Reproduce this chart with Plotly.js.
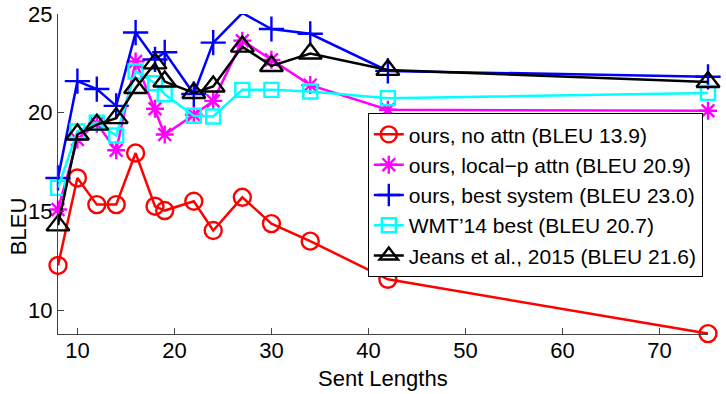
<!DOCTYPE html>
<html>
<head>
<meta charset="utf-8">
<script src="https://cdn.plot.ly/plotly-3.0.1.min.js"></script>
<style>html,body{margin:0;padding:0;background:#fff;}#chart{width:726px;height:394px;}</style>
</head>
<body>
<div id="chart"></div>
<script>
const sentLengths = [8, 10, 12, 14, 16, 18, 19, 22, 24, 27, 30, 34, 42, 75];
const noAttn      = [12.27, 16.7, 15.35, 15.35, 17.96, 15.27, 15.05, 15.52, 14.04, 15.72, 14.39, 13.5, 11.57, 8.82];
const localP      = [15.1, 18.65, 19.45, 18.1, 22.6, 20.2, 18.9, 19.9, 20.6, 23.65, 22.68, 21.4, 20.15, 20.1];
const bestSystem  = [16.7, 21.6, 21.2, 20.35, 24.06, 22.7, 23.06, 20.95, 23.55, 25.05, 24.24, 24.0, 22.12, 21.82];
const wmtBest     = [16.2, 19.05, 19.5, 18.85, 22.09, 21.5, 20.94, 19.85, 19.81, 21.16, 21.16, 21.08, 20.74, 21.0];
const jeans       = [14.3, 18.9, 19.4, 19.73, 21.25, 22.5, 21.58, 21.0, 21.33, 23.35, 22.37, 23.0, 22.17, 21.56];
const seriesNames = ["ours, no attn (BLEU 13.9)", "ours, local\u2212p attn (BLEU 20.9)", "ours, best system (BLEU 23.0)", "WMT\u201914 best (BLEU 20.7)", "Jeans et al., 2015 (BLEU 21.6)"];
const xTicks = [10, 20, 30, 40, 50, 60, 70];
const yTicks = [10, 15, 20, 25];

const FONT = "Liberation Sans, Arial, sans-serif";
const FS = 22;
function tr(y, name, color, symbol, size) {
  return {
    x: sentLengths, y: y, name: name, type: "scatter", mode: "lines+markers",
    line: {color: color, width: 2.5},
    marker: {symbol: symbol, size: size, color: color, line: {color: color, width: 2.4}},
    cliponaxis: false
  };
}
const data = [
  tr(noAttn, seriesNames[0], "#ff0000", "circle-open", 17),
  tr(localP, seriesNames[1], "#ff00ff", "asterisk-open", 15),
  tr(bestSystem, seriesNames[2], "#0000ff", "cross-thin-open", 18),
  tr(wmtBest, seriesNames[3], "#00ffff", "square-open", 14),
  tr(jeans, seriesNames[4], "#000000", "triangle-up-open", 20)
];
const layout = {
  width: 726, height: 394,
  margin: {l: 58, r: 18, t: 14, b: 60},
  paper_bgcolor: "#fff", plot_bgcolor: "#fff",
  font: {family: FONT, size: FS, color: "#000"},
  showlegend: true,
  legend: {
    x: 0.992, y: 0.69, xanchor: "right", yanchor: "top",
    bgcolor: "#fff", bordercolor: "#000", borderwidth: 1,
    font: {family: FONT, size: 21, color: "#000"},
    itemwidth: 30, tracegroupgap: 0
  },
  xaxis: {
    range: [8, 75], tickvals: xTicks, ticks: "inside", ticklen: 6, tickcolor: "#444",
    showline: true, linecolor: "#444", linewidth: 1, showgrid: false, zeroline: false,
    ticklabelstandoff: -3,
    tickfont: {family: FONT, size: FS, color: "#000"}
  },
  yaxis: {
    range: [8.8, 25], tickvals: yTicks, ticks: "inside", ticklen: 6, tickcolor: "#444",
    showline: true, linecolor: "#444", linewidth: 1, showgrid: false, zeroline: false,
    tickfont: {family: FONT, size: FS, color: "#000"}
  },
  annotations: [{
    text: "BLEU", xref: "paper", yref: "paper", x: -0.0615, y: 0.334,
    showarrow: false, textangle: -90, font: {family: FONT, size: FS, color: "#000"},
    xanchor: "center", yanchor: "middle"
  }, {
    text: "Sent Lengths", xref: "paper", yref: "paper", x: 0.5, y: -0.138,
    showarrow: false, font: {family: FONT, size: FS, color: "#000"},
    xanchor: "center", yanchor: "middle"
  }]
};
Plotly.newPlot("chart", data, layout, {displayModeBar: false, staticPlot: true});
</script>
</body>
</html>
